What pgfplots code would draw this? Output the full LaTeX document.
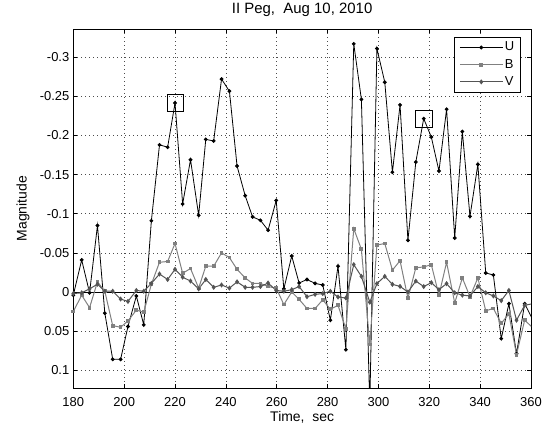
\documentclass[border=0pt]{standalone}
\usepackage{fontspec}
\setmainfont{Liberation Sans}
\usepackage{pgfplots}
\usepackage{pgfplotstable}
\pgfplotsset{compat=1.18}
\definecolor{bcol}{gray}{0.5}
\definecolor{vcol}{gray}{0.33}
\pgfplotstableread{
t U B V
180.0 0.004 0.025 0.002
183.3 -0.041 0.004 0.001
186.4 0.001 0.020 -0.004
189.5 -0.085 -0.013 -0.010
192.4 0.027 -0.001 -0.001
195.5 0.086 0.043 -0.001
198.6 0.086 0.045 0.009
201.5 0.044 0.037 0.012
204.8 0.005 0.023 -0.002
207.7 0.042 0.026 -0.001
210.7 -0.091 -0.010 -0.011
213.9 -0.188 -0.038 -0.023
217.1 -0.185 -0.039 -0.016
220.0 -0.2415 -0.062 -0.029
223.0 -0.1125 -0.024 -0.019
226.1 -0.169 -0.030 -0.014
229.3 -0.098 -0.005 -0.004
232.1 -0.195 -0.033 -0.016
235.2 -0.193 -0.033 -0.006
238.3 -0.272 -0.050 -0.009
241.4 -0.2565 -0.044 -0.005
244.4 -0.161 -0.029 -0.013
247.6 -0.123 -0.018 -0.006
250.5 -0.096 -0.011 -0.006
253.6 -0.0916 -0.011 -0.007
256.6 -0.079 -0.007 -0.0115
259.8 -0.117 -0.005 -0.002
262.8 -0.004 0.016 -0.001
265.9 -0.046 0.000 -0.003
268.8 -0.0115 0.0094 -0.007
271.9 -0.016 0.021 0.006
275.1 -0.011 0.021 0.003
278.1 -0.009 0.010 0.002
281.1 0.036 0.022 -0.001
284.1 -0.033 0.017 0.0064
287.2 0.0737 0.047 0.0077
290.3 -0.317 -0.081 -0.035
293.3 -0.246 -0.0545 -0.020
296.6 0.145 0.067 0.013
299.4 -0.311 -0.060 -0.0107
302.5 -0.268 -0.062 -0.020
305.5 -0.153 -0.028 -0.0098
308.5 -0.239 -0.040 -0.0072
311.6 -0.066 0.008 0.000
314.7 -0.166 -0.031 -0.014
317.8 -0.2215 -0.032 -0.007
320.8 -0.198 -0.035 -0.012
323.8 -0.1546 0.004 -0.003
326.8 -0.2335 -0.038 -0.0107
330.0 -0.069 0.014 0.001
333.0 -0.205 -0.018 0.004
336.0 -0.0967 0.006 0.005
339.1 -0.163 -0.018 -0.007
342.2 -0.0243 0.024 0.001
345.2 -0.0218 0.021 0.005
348.3 0.0596 0.040 0.011
351.3 0.0149 0.028 -0.002
354.3 0.0788 0.080 0.036
357.5 0.0149 0.036 0.017
360.5 0.034 0.045 0.015
}\data
\begin{document}
\begin{tikzpicture}
\path[use as bounding box] (0,0) rectangle (542bp,428bp);
\begin{axis}[
  at={(73.3bp,39.7bp)}, anchor=south west,
  scale only axis, width=457.7bp, height=359.3bp,
  xmin=180, xmax=360, ymin=-0.336, ymax=0.123, y dir=reverse,
  xtick={180,200,220,240,260,280,300,320,340,360},
  xticklabels={180,200,220,240,260,280,300,320,340,360},
  ytick={-0.3,-0.25,-0.2,-0.15,-0.1,-0.05,0,0.05,0.1},
  yticklabels={-0.3,-0.25,-0.2,-0.15,-0.1,-0.05,0,0.05,0.1},
  grid=major,
  major grid style={black!70, line width=0.5bp, dash pattern=on 0.7bp off 3.3bp},
  tick align=inside, major tick length=4bp,
  axis line style={line width=0.7bp},
  tick style={black, line width=0.5bp},
  ticklabel style={font=\fontsize{13}{15}\selectfont},
  xticklabel style={anchor=base, yshift=-17.8bp, inner sep=0pt},
  yticklabel style={anchor=east, xshift=-0.5bp},
  title={II Peg,\ \ Aug 10, 2010},
  title style={at={(axis description cs:0.5,1.0267)}, anchor=base, inner sep=0pt, font=\fontsize{15}{17}\selectfont},
  xlabel={Time,\ \ sec},
  xlabel style={at={(axis description cs:0.5,-0.0930)}, anchor=base, inner sep=0pt, font=\fontsize{14}{16}\selectfont},
  ylabel={Magnitude},
  ylabel style={at={(axis description cs:-0.1022,0.5)}, anchor=base, inner sep=0pt, font=\fontsize{14}{16}\selectfont},
  legend style={at={(axis description cs:0.978,0.9786)}, anchor=north east, draw=black, line width=0.6bp,
    font=\fontsize{13}{15}\selectfont, row sep=2.2bp, inner xsep=5bp, inner ysep=3bp,
    nodes={inner sep=1.5bp, text height=9.5bp, text depth=2.5bp}},
  legend cell align=left,
  legend image code/.code={\draw[mark repeat=2,mark phase=2,#1] plot coordinates {(0bp,0bp) (21.5bp,0bp) (43bp,0bp)};},
]
\addplot[black, line width=0.7bp, forget plot] coordinates {(180,0) (360,0)};
\addplot[black, line width=0.8bp, mark=*, mark size=1.5bp] table[x=t,y=U] {\data};
\addlegendentry{U}
\addplot[bcol, line width=1bp, mark=square*, mark size=1.4bp] table[x=t,y=B] {\data};
\addlegendentry{B}
\addplot[vcol, line width=1bp, mark=diamond*, mark size=1.8bp] table[x=t,y=V] {\data};
\addlegendentry{V}
\addplot[only marks, black, line width=0.6bp, mark=square, mark size=8.2bp, forget plot] coordinates {(220,-0.2415) (317.8,-0.2215)};
\end{axis}
\end{tikzpicture}
\end{document}
